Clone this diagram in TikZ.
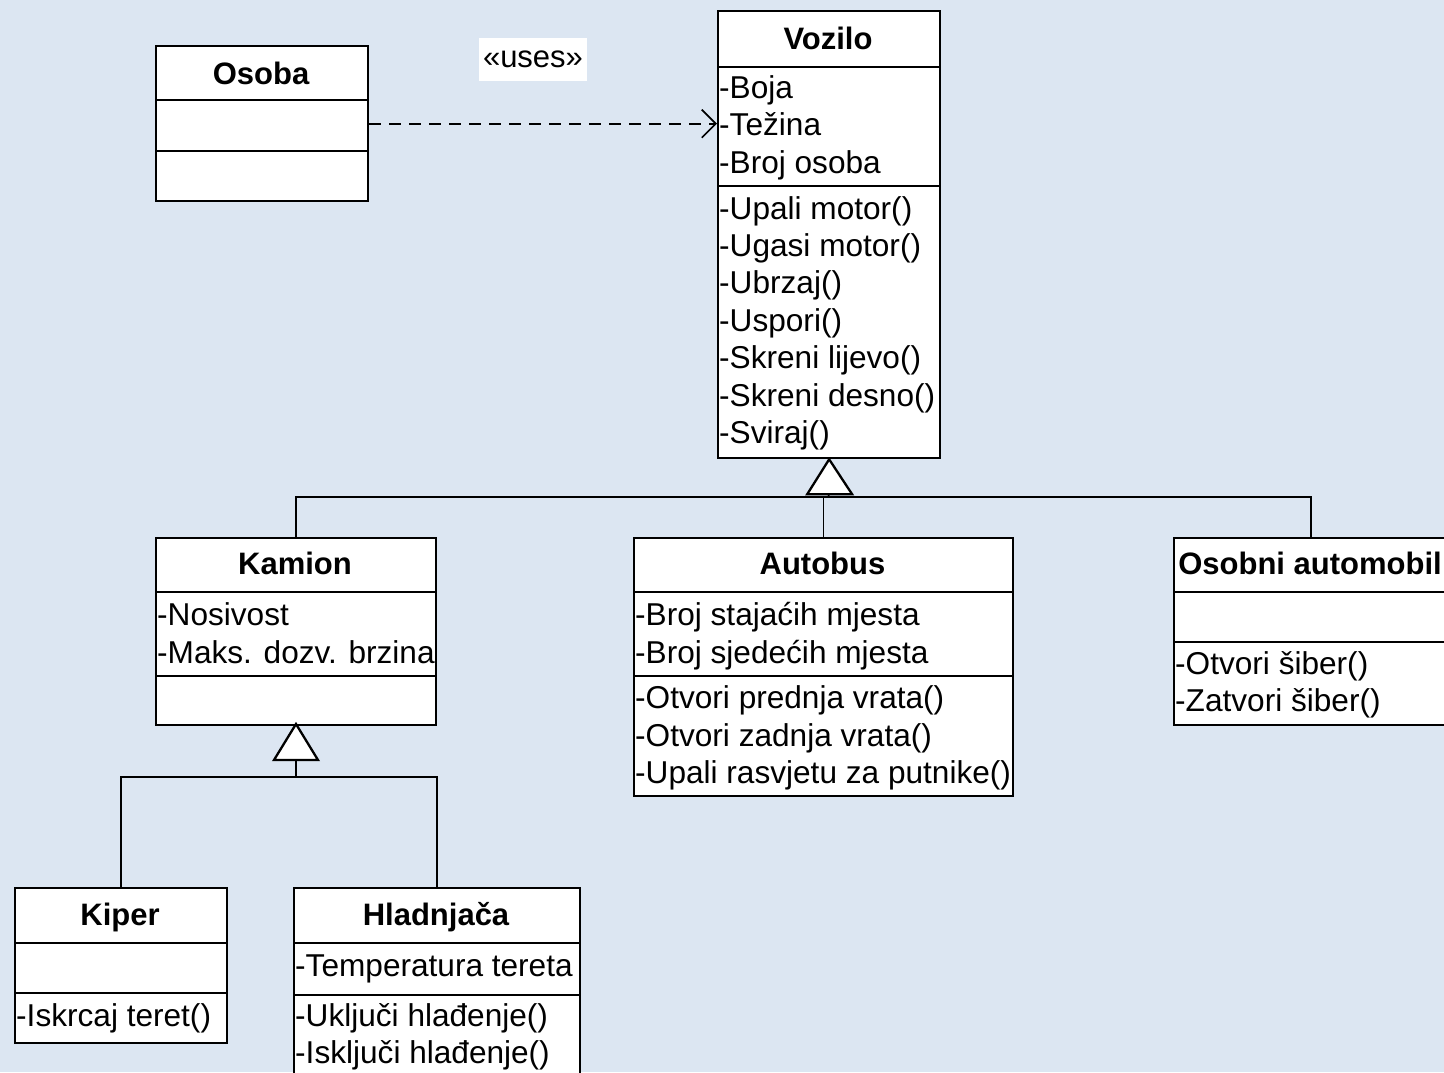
\documentclass[tikz,border=0pt]{standalone}
\usepackage{fontspec}
\setmainfont{Liberation Sans}
\usetikzlibrary{arrows.meta,calc}
\definecolor{bgblue}{RGB}{220,230,242}
\tikzset{
  classbox/.style={draw=black,fill=white,line width=2.3pt,anchor=north west,inner sep=0pt},
  sep/.style={line width=2.3pt},
  txt/.style={anchor=base west,inner sep=0pt,font=\fontsize{31.6}{37}\selectfont},
  ttl/.style={anchor=base,inner sep=0pt,font=\fontsize{31}{37}\selectfont\bfseries},
  conn/.style={line width=1.6pt},
  tri/.style={line width=2.3pt,fill=white,line join=miter},
  dep/.style={line width=1.7pt,dash pattern=on 12pt off 8pt,-{Straight Barb[length=14pt,width=28pt,line width=1.7pt]}},
}
\newcommand{\umlbox}[5]{% name, x1, y1, x2, y2
  \node[classbox,minimum width=#4pt-#2pt,minimum height=#5pt-#3pt] (#1) at (#2,#3) {};}
\newcommand{\umlsep}[3]{% x1 x2 y
  \draw[sep] (#1,#3) -- (#2,#3);}
\begin{document}
\begin{tikzpicture}[x=1pt,y=-1pt]
\useasboundingbox (0,0) rectangle (1444,1072);
\clip (0,0) rectangle (1444,1072);
\fill[bgblue] (0,0) rectangle (1444,1072);

% Osoba
\umlbox{osoba}{155}{45}{367}{200}
\umlsep{155}{367}{100}
\umlsep{155}{367}{151}
\node[ttl] (osoba-t) at (261,84) {Osoba};

% Vozilo
\umlbox{vozilo}{717}{10}{939}{457}
\umlsep{717}{939}{67}
\umlsep{717}{939}{186}
\node[ttl] (vozilo-t) at (828,49) {Vozilo};
\foreach \t [count=\i] in {-Boja,-Težina,-Broj osoba}
  \node[txt] (vozilo-a\i) at (719,{98+(\i-1)*37.5}) {\t};
\foreach \t [count=\i] in {-Upali motor(),-Ugasi motor(),-Ubrzaj(),-Uspori(),-Skreni lijevo(),-Skreni desno(),-Sviraj()}
  \node[txt] (vozilo-m\i) at (719,{219+(\i-1)*37.4}) {\t};

% uses
\node[fill=white,minimum width=108pt,minimum height=43pt,inner sep=0pt,font=\fontsize{31}{37}\selectfont] (uses) at (533,59) {«uses»};
\draw[dep] (osoba.east) -- (osoba.east -| vozilo.west);

% Kamion
\umlbox{kamion}{155}{537}{435}{724}
\umlsep{155}{435}{592}
\umlsep{155}{435}{676}
\node[ttl] (kamion-t) at (295,574) {Kamion};
\node[txt] (kamion-a1) at (157,625) {-Nosivost};
\node[txt] (kamion-a2) at (157,663) {-Maks. dozv. brzina};

% Autobus
\umlbox{autobus}{633}{537}{1012}{795}
\umlsep{633}{1012}{592}
\umlsep{633}{1012}{676}
\node[ttl] (autobus-t) at (822.5,574) {Autobus};
\node[txt] (autobus-a1) at (635,625) {-Broj stajaćih mjesta};
\node[txt] (autobus-a2) at (635,663) {-Broj sjedećih mjesta};
\node[txt] (autobus-m1) at (635,708) {-Otvori prednja vrata()};
\node[txt] (autobus-m2) at (635,746) {-Otvori zadnja vrata()};
\node[txt] (autobus-m3) at (635,783) {-Upali rasvjetu za putnike()};

% Osobni automobil
\umlbox{osobni}{1173}{537}{1447}{724}
\umlsep{1173}{1447}{592}
\umlsep{1173}{1447}{642}
\node[ttl] (osobni-t) at (1310,574) {Osobni automobil};
\node[txt] (osobni-m1) at (1175,674) {-Otvori šiber()};
\node[txt] (osobni-m2) at (1175,711) {-Zatvori šiber()};

% Kiper
\umlbox{kiper}{14}{887}{226}{1042}
\umlsep{14}{226}{943}
\umlsep{14}{226}{993}
\node[ttl] (kiper-t) at (120,925) {Kiper};
\node[txt] (kiper-m1) at (16,1026) {-Iskrcaj teret()};

% Hladnjaca
\umlbox{hlad}{293}{887}{579}{1085}
\umlsep{293}{579}{943}
\umlsep{293}{579}{995}
\node[ttl] (hlad-t) at (436,925) {Hladnjača};
\node[txt] (hlad-a1) at (295,976) {-Temperatura tereta};
\node[txt] (hlad-m1) at (295,1026) {-Uključi hlađenje()};
\node[txt] (hlad-m2) at (295,1063) {-Isključi hlađenje()};

% generalization to Vozilo
\coordinate (vj) at (828,497);
\coordinate (vbase) at ($(vozilo.south)+(0,35)$);
\draw[conn] (kamion.north) |- (osobni.north |- vj) -- (osobni.north);
\draw[conn] (autobus.north) -- (autobus.north |- vj);
\draw[conn] (vbase) -- (vj);
\draw[tri] (vozilo.south) -- ($(vbase)+(23,0)$) -- ($(vbase)+(-22,0)$) -- cycle;

% generalization to Kamion
\coordinate (kj) at (296,777);
\coordinate (ktip) at (296,724);
\coordinate (kbase) at (296,760);
\draw[conn] (kiper.north) |- (hlad.north |- kj) -- (hlad.north);
\draw[conn] (kbase) -- (kj);
\draw[tri] (ktip) -- ($(kbase)+(22,0)$) -- ($(kbase)+(-22,0)$) -- cycle;
\end{tikzpicture}
\end{document}
